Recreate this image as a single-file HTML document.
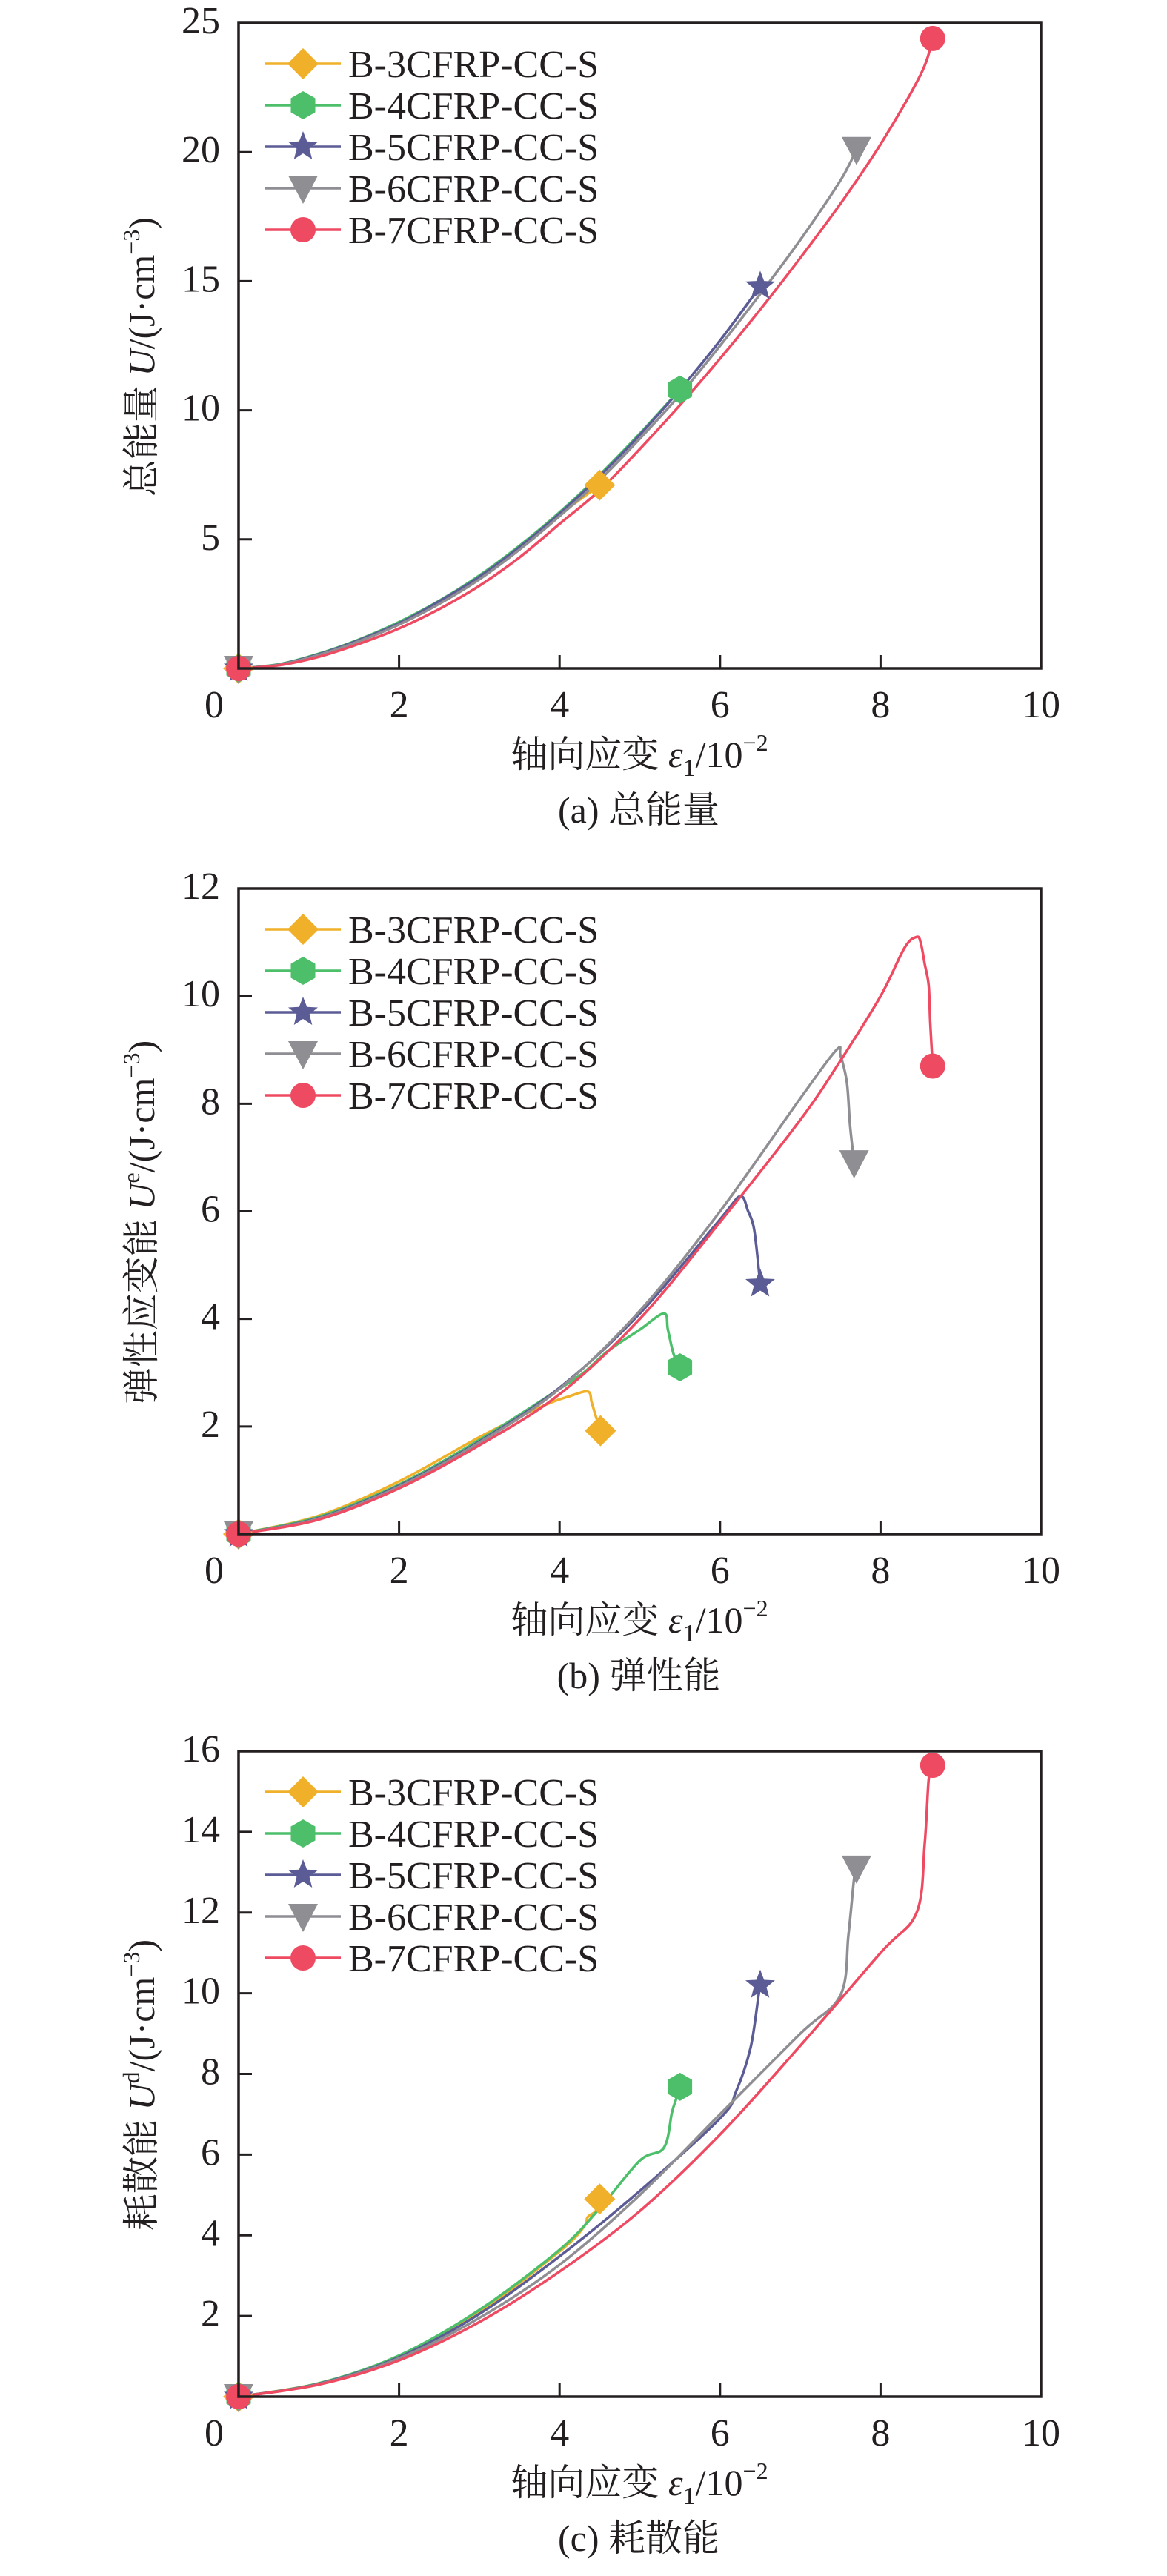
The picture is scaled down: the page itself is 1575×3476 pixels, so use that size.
<!DOCTYPE html>
<html><head><meta charset="utf-8"><style>
html,body{margin:0;padding:0;background:#fff;}
svg{display:block;font-family:"Liberation Serif","Times New Roman","DejaVu Serif",serif;}
text,tspan{font-family:"Liberation Serif","Times New Roman","DejaVu Serif",serif;fill:#231f20;}
tspan.cjk{font-family:"Noto Serif CJK SC","Noto Sans CJK SC",serif;}
</style></head><body>
<svg id="fig" width="1575" height="3476" viewBox="0 0 1575 3476" xmlns="http://www.w3.org/2000/svg" font-family="Liberation Serif, serif"></svg>
<script>
// ---------- data ----------
const seriesNames = ["B-3CFRP-CC-S","B-4CFRP-CC-S","B-5CFRP-CC-S","B-6CFRP-CC-S","B-7CFRP-CC-S"];
const xTicks = [0,2,4,6,8,10];

// (a) total energy
const aYTicks = [5,10,15,20,25];
const aB3x = [0,0.5,1,1.5,2,2.5,3,3.5,4,4.5];
const aB3y = [0,0.15,0.55,1.1,1.76,2.58,3.53,4.65,5.95,7.1];
const aB4x = [0,0.5,1,1.5,2,2.5,3,3.5,4,4.5,5,5.5];
const aB4y = [0,0.16,0.57,1.12,1.8,2.62,3.6,4.75,6.05,7.5,9.1,10.8];
const aB5x = [0,0.5,1,1.5,2,2.5,3,3.5,4,4.5,5,5.5,6,6.5];
const aB5y = [0,0.15,0.55,1.1,1.75,2.6,3.55,4.7,6.0,7.45,9.05,10.8,12.7,14.8];
const aB6x = [0,0.5,1,1.5,2,2.5,3,3.5,4,4.5,5,5.5,6,6.5,7,7.5,7.7];
const aB6y = [0,0.14,0.52,1.05,1.7,2.5,3.45,4.6,5.9,7.3,8.9,10.6,12.5,14.5,16.6,18.9,20.1];
const aB7x = [0,0.5,1,1.5,2,2.5,3,3.5,4,4.5,5,5.5,6,6.5,7,7.5,8,8.5,8.65];
const aB7y = [0,0.12,0.45,0.95,1.55,2.3,3.2,4.3,5.6,6.9,8.5,10.2,12.0,13.9,15.9,18.0,20.3,23.0,24.4];

// (b) elastic energy
const bYTicks = [2,4,6,8,10,12];
const bB3x = [0,1,2,3,3.6,3.9,4.1,4.35,4.4,4.45,4.51];
const bB3y = [0,0.34,0.98,1.8,2.25,2.45,2.55,2.65,2.45,2.2,1.92];
const bB4x = [0,1,2,3,4,4.3,4.6,5.0,5.3,5.35,5.42,5.5];
const bB4y = [0,0.32,0.92,1.75,2.7,3.0,3.4,3.8,4.1,3.8,3.35,3.1];
const bB5x = [0,1,2,3,4,5,6,6.25,6.35,6.42,6.47,6.5];
const bB5y = [0,0.3,0.9,1.72,2.72,4.1,5.85,6.28,6.0,5.7,5.1,4.65];
const bB6x = [0,1,2,3,4,5,6,7,7.45,7.5,7.58,7.62,7.67];
const bB6y = [0,0.29,0.88,1.7,2.7,4.15,6.0,8.1,9.0,8.9,8.4,7.6,6.9];
const bB7x = [0,1,2,3,4,5,6,7,7.5,8,8.3,8.45,8.5,8.55,8.6,8.62,8.65];
const bB7y = [0,0.27,0.85,1.65,2.6,4.0,5.8,7.7,8.8,10.0,10.9,11.1,11.0,10.6,10.2,9.5,8.7];

// (c) dissipated energy
const cYTicks = [2,4,6,8,10,12,14,16];
const cB3x = [0,1,2,3,4,4.3,4.35,4.45,4.5];
const cB3y = [0,0.33,1.0,2.1,3.6,4.2,4.45,4.6,4.9];
const cB4x = [0,1,2,3,4,4.5,5,5.3,5.4,5.45,5.5];
const cB4y = [0,0.33,1.02,2.15,3.64,4.67,5.85,6.17,7.04,7.36,7.68];
const cB5x = [0,1,2,3,4,5,6,6.2,6.38,6.48,6.5];
const cB5y = [0,0.32,0.98,2.05,3.48,5.1,6.9,7.57,8.65,9.95,10.2];
const cB6x = [0,1,2,3,4,5,6,7,7.5,7.6,7.67,7.7];
const cB6y = [0,0.31,0.95,1.95,3.27,5.0,7.0,9.0,9.95,11.45,12.85,13.1];
const cB7x = [0,1,2,3,4,5,6,7,8,8.45,8.55,8.6,8.65];
const cB7y = [0,0.3,0.9,1.85,3.1,4.6,6.5,8.7,11.0,12.0,13.7,15.3,15.65];

const colors = ["#F0B02A","#4DBF6A","#5B5B96","#8E8E93","#EE4A62"];
const markerKinds = ["diamond","hexagon","star","triangle","circle"];

// ---------- drawing ----------
const NS = "http://www.w3.org/2000/svg";
const svg = document.getElementById("fig");
const SERIF = '"Liberation Serif","Times New Roman","DejaVu Serif",serif';
function mk(tag, attrs, parent){
  const e = document.createElementNS(NS, tag);
  for (const k in attrs) e.setAttribute(k, attrs[k]);
  if (tag==="text") e.style.fontFamily = SERIF;
  (parent||svg).appendChild(e);
  return e;
}
const L = 322, R = 1405, H = 871;

function smoothPath(pts){
  let d = "M"+pts[0][0].toFixed(1)+","+pts[0][1].toFixed(1);
  for (let i=0;i<pts.length-1;i++){
    const p0=pts[Math.max(0,i-1)], p1=pts[i], p2=pts[i+1], p3=pts[Math.min(pts.length-1,i+2)];
    const c1x=p1[0]+(p2[0]-p0[0])/6, c1y=p1[1]+(p2[1]-p0[1])/6;
    const c2x=p2[0]-(p3[0]-p1[0])/6, c2y=p2[1]-(p3[1]-p1[1])/6;
    d += `C${c1x.toFixed(1)},${c1y.toFixed(1)} ${c2x.toFixed(1)},${c2y.toFixed(1)} ${p2[0].toFixed(1)},${p2[1].toFixed(1)}`;
  }
  return d;
}

function markerPath(kind, cx, cy){
  if (kind==="diamond"){ const s=21; return `M${cx},${cy-s}L${cx+s},${cy}L${cx},${cy+s}L${cx-s},${cy}Z`; }
  if (kind==="hexagon"){ const r=19; let d=""; for(let i=0;i<6;i++){const a=Math.PI/6+i*Math.PI/3; d+=(i?"L":"M")+(cx+r*Math.cos(a)).toFixed(1)+","+(cy+r*Math.sin(a)).toFixed(1);} return d+"Z"; }
  if (kind==="star"){ const ro=21, ri=9; let d=""; for(let i=0;i<10;i++){const r=i%2?ri:ro; const a=-Math.PI/2+i*Math.PI/5; d+=(i?"L":"M")+(cx+r*Math.cos(a)).toFixed(1)+","+(cy+r*Math.sin(a)).toFixed(1);} return d+"Z"; }
  if (kind==="triangle"){ const s=20; return `M${cx-s},${cy-s*0.85}L${cx+s},${cy-s*0.85}L${cx},${cy+s*1.05}Z`; }
  return null;
}
function drawMarker(g, kind, cx, cy, color){
  let e;
  if (kind==="circle") e = mk("circle",{cx:cx,cy:cy,r:17,fill:color},g);
  else e = mk("path",{d:markerPath(kind,cx,cy),fill:color},g);
  return e;
}

function drawChart(cfg){
  const T = cfg.top, B = T + H;
  const sx = v => L + (v/10)*(R-L);
  const sy = v => B - (v/cfg.ymax)*H;
  const g = mk("g",{});
  
  

  cfg.series.forEach((s,i)=>{
    const pts = s.x.map((xv,j)=>[sx(xv), sy(s.y[j])]);
    const p = mk("path",{d:smoothPath(pts),fill:"none",stroke:colors[i],"stroke-width":3.5,"stroke-linejoin":"round"},g);
    
    
  });
  cfg.series.forEach((s,i)=>{
    const m = drawMarker(g, markerKinds[i], sx(s.x[0]), sy(s.y[0]), colors[i]);
    
    
  });
  cfg.series.forEach((s,i)=>{
    const n = s.x.length-1;
    const m = drawMarker(g, markerKinds[i], sx(s.x[n]), sy(s.y[n]), colors[i]);
    
    
  });

  const fr = mk("rect",{x:L,y:T,width:R-L,height:H,fill:"none",stroke:"#231f20","stroke-width":3.5},g);
  
  

  xTicks.forEach(v=>{
    if (v>0 && v<10){
      const t = mk("line",{x1:sx(v),x2:sx(v),y1:B,y2:B-18,stroke:"#231f20","stroke-width":3},g);
      
      
    }
    const lx = v===0 ? sx(0)-33 : sx(v);
    const tl = mk("text",{x:lx,y:B+66,"font-size":52,"text-anchor":"middle"},g);
    tl.textContent = v;
    
    
  });
  cfg.yticks.forEach(v=>{
    if (v<cfg.ymax){
      const t = mk("line",{x1:L,x2:L+18,y1:sy(v),y2:sy(v),stroke:"#231f20","stroke-width":3},g);
      
      
    }
    const tl = mk("text",{x:297,y:sy(v)+14,"font-size":52,"text-anchor":"end"},g);
    tl.textContent = v;
    
    
  });

  seriesNames.forEach((nm,i)=>{
    const ly = T + 55 + i*56;
    const lg = mk("g",{},g);
    
    
    mk("line",{x1:358,x2:460,y1:ly,y2:ly,stroke:colors[i],"stroke-width":3.5},lg);
    drawMarker(lg, markerKinds[i], 409, ly, colors[i]);
    const tx = mk("text",{x:470,y:ly+18,"font-size":52},lg);
    tx.textContent = nm;
  });

  const xt = mk("text",{x:863,y:B+133,"font-size":50,"text-anchor":"middle"},g);
  
  
  xt.innerHTML = '<tspan class="cjk">轴向应变</tspan> <tspan font-style="italic">ε</tspan><tspan font-size="34" dy="12">1</tspan><tspan dy="-12">/10</tspan><tspan font-size="32" dy="-22">−2</tspan>';

  const cp = mk("text",{x:862,y:B+208,"font-size":50,"text-anchor":"middle"},g);
  
  
  cp.innerHTML = cfg.caption;

  const cy = T + H/2 + 15;
  const yt = mk("text",{x:0,y:0,"font-size":50,"text-anchor":"middle",transform:`translate(208,${cy}) rotate(-90)`},g);
  
  
  yt.innerHTML = cfg.ytitle;
}

drawChart({name:"chart-total-energy", top:31, ymax:25, yticks:aYTicks, caption:'(a) <tspan class="cjk">总能量</tspan>',
  ytitle:'<tspan class="cjk">总能量</tspan> <tspan font-style="italic">U</tspan>/(J·cm<tspan font-size="32" dy="-20">−3</tspan><tspan dy="20">)</tspan>',
  series:[{x:aB3x,y:aB3y},{x:aB4x,y:aB4y},{x:aB5x,y:aB5y},{x:aB6x,y:aB6y},{x:aB7x,y:aB7y}]});
drawChart({name:"chart-elastic-energy", top:1199, ymax:12, yticks:bYTicks, caption:'(b) <tspan class="cjk">弹性能</tspan>',
  ytitle:'<tspan class="cjk">弹性应变能</tspan> <tspan font-style="italic">U</tspan><tspan font-size="32" dy="-20">e</tspan><tspan dy="20">/(J·cm</tspan><tspan font-size="32" dy="-20">−3</tspan><tspan dy="20">)</tspan>',
  series:[{x:bB3x,y:bB3y},{x:bB4x,y:bB4y},{x:bB5x,y:bB5y},{x:bB6x,y:bB6y},{x:bB7x,y:bB7y}]});
drawChart({name:"chart-dissipated-energy", top:2363, ymax:16, yticks:cYTicks, caption:'(c) <tspan class="cjk">耗散能</tspan>',
  ytitle:'<tspan class="cjk">耗散能</tspan> <tspan font-style="italic">U</tspan><tspan font-size="32" dy="-20">d</tspan><tspan dy="20">/(J·cm</tspan><tspan font-size="32" dy="-20">−3</tspan><tspan dy="20">)</tspan>',
  series:[{x:cB3x,y:cB3y},{x:cB4x,y:cB4y},{x:cB5x,y:cB5y},{x:cB6x,y:cB6y},{x:cB7x,y:cB7y}]});
</script>
</body></html>
